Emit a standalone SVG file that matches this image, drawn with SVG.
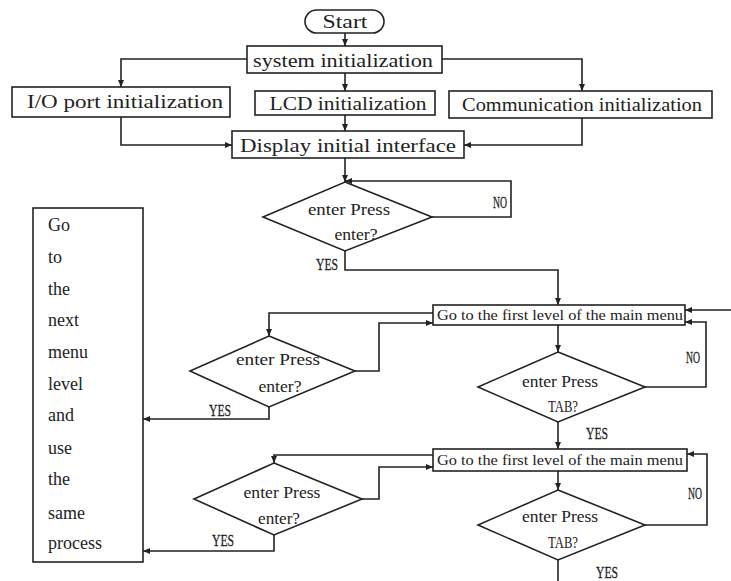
<svg xmlns="http://www.w3.org/2000/svg" width="731" height="581" viewBox="0 0 731 581">
<style>
.b{fill:#fff;stroke:#222;stroke-width:1.6}
.c{fill:none;stroke:#222;stroke-width:1.6}
.t{font-family:"Liberation Serif",serif;font-size:19px;fill:#222;text-anchor:middle}
.s{font-family:"Liberation Serif",serif;font-size:16px;fill:#222;text-anchor:middle}
.m{font-family:"Liberation Serif",serif;font-size:14px;fill:#222;text-anchor:middle}
.l{font-family:"Liberation Serif",serif;font-size:18px;fill:#222}
.y{font-family:"Liberation Serif",serif;font-size:17px;fill:#222;text-anchor:middle;stroke:#222;stroke-width:0.3}
</style>
<defs>
<marker id="a" markerUnits="userSpaceOnUse" markerWidth="7" markerHeight="6" refX="7" refY="3" orient="auto">
<path d="M0,0 L7,3 L0,6 z" fill="#222"/>
</marker>
</defs>
<rect width="731" height="581" fill="#fff"/>
<g id="connectors">
<path class="c" d="M345,33 V46" marker-end="url(#a)"/>
<path class="c" d="M247,59 H121 V87" marker-end="url(#a)"/>
<path class="c" d="M345,73 V91" marker-end="url(#a)"/>
<path class="c" d="M442,59 H582 V91" marker-end="url(#a)"/>
<path class="c" d="M121,117 V145 H232" marker-end="url(#a)"/>
<path class="c" d="M345,115 V131" marker-end="url(#a)"/>
<path class="c" d="M582,118 V145 H464" marker-end="url(#a)"/>
<path class="c" d="M345,158 V182" marker-end="url(#a)"/>
<path class="c" d="M432,217 H511 V181 H345" marker-end="url(#a)"/>
<path class="c" d="M345,251 V270 H558 V305" marker-end="url(#a)"/>
<path class="c" d="M731,310 H685" marker-end="url(#a)"/>
<path class="c" d="M558,325 V352" marker-end="url(#a)"/>
<path class="c" d="M645,387 H706 V322 H685" marker-end="url(#a)"/>
<path class="c" d="M433,313 H269 V336" marker-end="url(#a)"/>
<path class="c" d="M355,371 H379 V323 H433" marker-end="url(#a)"/>
<path class="c" d="M269,407 V419 H143" marker-end="url(#a)"/>
<path class="c" d="M558,422 V449" marker-end="url(#a)"/>
<path class="c" d="M645,525 H707 V454 H687" marker-end="url(#a)"/>
<path class="c" d="M433,455 H274 V463" marker-end="url(#a)"/>
<path class="c" d="M362,499 H379 V467 H433" marker-end="url(#a)"/>
<path class="c" d="M274,535 V551 H143" marker-end="url(#a)"/>
<path class="c" d="M558,471 V490" marker-end="url(#a)"/>
<path class="c" d="M558,560 V581"/>
<text class="y" x="500" y="208" textLength="14" lengthAdjust="spacingAndGlyphs">NO</text>
<text class="y" x="327" y="270" textLength="22" lengthAdjust="spacingAndGlyphs">YES</text>
<text class="y" x="693" y="363" textLength="14" lengthAdjust="spacingAndGlyphs">NO</text>
<text class="y" x="597" y="439" textLength="22" lengthAdjust="spacingAndGlyphs">YES</text>
<text class="y" x="220" y="416" textLength="22" lengthAdjust="spacingAndGlyphs">YES</text>
<text class="y" x="695" y="499" textLength="14" lengthAdjust="spacingAndGlyphs">NO</text>
<text class="y" x="223" y="546" textLength="22" lengthAdjust="spacingAndGlyphs">YES</text>
<text class="y" x="607" y="578" textLength="22" lengthAdjust="spacingAndGlyphs">YES</text>
</g>
<g id="start"><rect class="b" x="305" y="10" width="79" height="23" rx="11.5"/><text class="t" x="345" y="28" textLength="45" lengthAdjust="spacingAndGlyphs">Start</text></g>
<g id="sysinit"><rect class="b" x="247" y="46" width="195" height="27"/><text class="t" x="343" y="67" textLength="180" lengthAdjust="spacingAndGlyphs">system initialization</text></g>
<g id="ioinit"><rect class="b" x="12" y="87" width="218" height="30"/><text class="t" x="125" y="108" textLength="196" lengthAdjust="spacingAndGlyphs">I/O port initialization</text></g>
<g id="lcdinit"><rect class="b" x="255" y="91" width="180" height="24"/><text class="t" x="348" y="110" textLength="157" lengthAdjust="spacingAndGlyphs">LCD initialization</text></g>
<g id="comminit"><rect class="b" x="449" y="91" width="263" height="27"/><text class="t" x="582" y="111" textLength="240" lengthAdjust="spacingAndGlyphs">Communication initialization</text></g>
<g id="display"><rect class="b" x="232" y="131" width="232" height="27"/><text class="t" x="348" y="152" textLength="216" lengthAdjust="spacingAndGlyphs">Display initial interface</text></g>
<g id="dec1"><path class="b" d="M345,182 L432,217 L345,251 L263,217 Z"/><text class="s" x="349" y="215" textLength="82" lengthAdjust="spacingAndGlyphs">enter  Press</text><text class="s" x="356" y="240" textLength="43" lengthAdjust="spacingAndGlyphs">enter?</text></g>
<g id="menu1"><rect class="b" x="433" y="305" width="252" height="20"/><text class="m" x="560" y="320" textLength="246" lengthAdjust="spacingAndGlyphs">Go to the first level of the main menu</text></g>
<g id="tab1"><path class="b" d="M558,352 L645,387 L558,422 L478,387 Z"/><text class="s" x="560" y="387" textLength="76" lengthAdjust="spacingAndGlyphs">enter Press</text><text class="s" x="563" y="412" textLength="30" lengthAdjust="spacingAndGlyphs">TAB?</text></g>
<g id="ent1"><path class="b" d="M269,336 L355,371 L269,407 L190,371 Z"/><text class="s" x="278" y="365" textLength="84" lengthAdjust="spacingAndGlyphs">enter  Press</text><text class="s" x="280" y="392" textLength="43" lengthAdjust="spacingAndGlyphs">enter?</text></g>
<g id="menu2"><rect class="b" x="433" y="449" width="254" height="22"/><text class="m" x="560" y="465" textLength="246" lengthAdjust="spacingAndGlyphs">Go to the first level of the main menu</text></g>
<g id="ent2"><path class="b" d="M274,463 L362,499 L274,535 L194,499 Z"/><text class="s" x="282" y="498" textLength="77" lengthAdjust="spacingAndGlyphs">enter Press</text><text class="s" x="279" y="524" textLength="42" lengthAdjust="spacingAndGlyphs">enter?</text></g>
<g id="tab2"><path class="b" d="M558,490 L645,525 L558,560 L478,525 Z"/><text class="s" x="560" y="522" textLength="76" lengthAdjust="spacingAndGlyphs">enter Press</text><text class="s" x="563" y="548" textLength="30" lengthAdjust="spacingAndGlyphs">TAB?</text></g>
<g id="nextlevel"><rect class="b" x="33" y="208" width="110" height="354"/>
<text class="l" x="48" y="231">Go</text>
<text class="l" x="48" y="263">to</text>
<text class="l" x="48" y="295">the</text>
<text class="l" x="48" y="326">next</text>
<text class="l" x="48" y="358">menu</text>
<text class="l" x="48" y="390">level</text>
<text class="l" x="48" y="421">and</text>
<text class="l" x="48" y="454">use</text>
<text class="l" x="48" y="485">the</text>
<text class="l" x="48" y="519">same</text>
<text class="l" x="48" y="549">process</text>
</g>
</svg>
